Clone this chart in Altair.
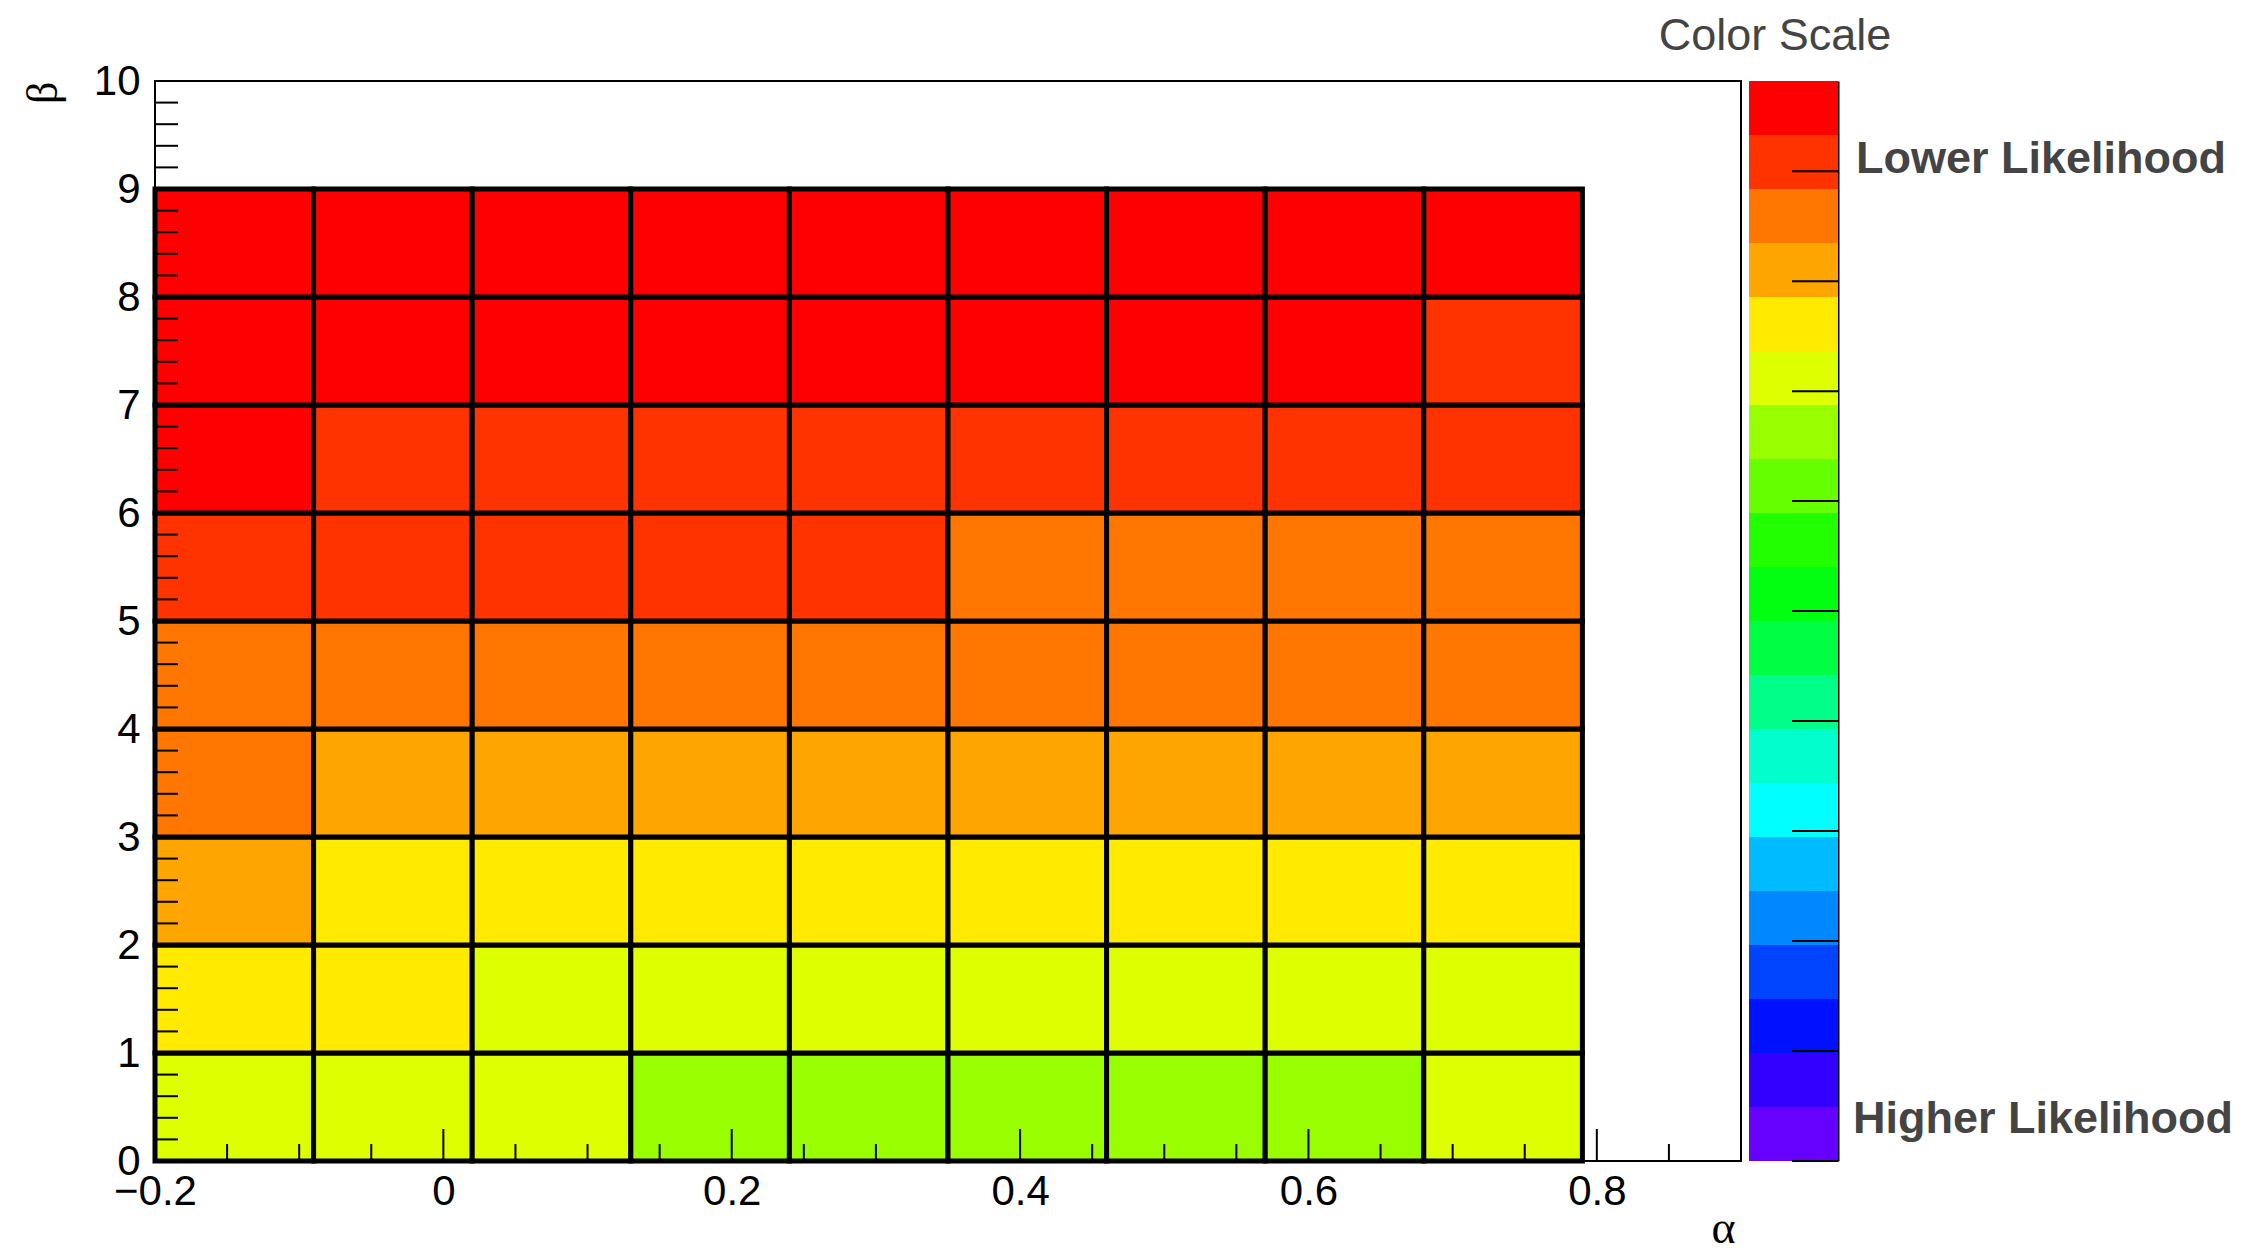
import altair as alt
import pandas as pd

# ---------------- data ----------------
alpha_lo = [-0.2, -0.09, 0.02, 0.13, 0.24, 0.35, 0.46, 0.57, 0.68]
alpha_hi = [-0.09, 0.02, 0.13, 0.24, 0.35, 0.46, 0.57, 0.68, 0.79]
beta_lo = [0, 1, 2, 3, 4, 5, 6, 7, 8]
beta_hi = [1, 2, 3, 4, 5, 6, 7, 8, 9]

# colour level (index into the palette) of every cell, one list per beta row (bottom -> top)
level_b0 = [14, 14, 14, 13, 13, 13, 13, 13, 14]
level_b1 = [15, 15, 14, 14, 14, 14, 14, 14, 14]
level_b2 = [16, 15, 15, 15, 15, 15, 15, 15, 15]
level_b3 = [17, 16, 16, 16, 16, 16, 16, 16, 16]
level_b4 = [17, 17, 17, 17, 17, 17, 17, 17, 17]
level_b5 = [18, 18, 18, 18, 18, 17, 17, 17, 17]
level_b6 = [19, 18, 18, 18, 18, 18, 18, 18, 18]
level_b7 = [19, 19, 19, 19, 19, 19, 19, 19, 18]
level_b8 = [19, 19, 19, 19, 19, 19, 19, 19, 19]
levels = [level_b0, level_b1, level_b2, level_b3, level_b4,
          level_b5, level_b6, level_b7, level_b8]

# palette, bottom (higher likelihood) -> top (lower likelihood)
palette = ["#6600FF", "#3300FF", "#0011FF", "#0044FF", "#0088FF",
           "#00BBFF", "#00FFFF", "#00FFCC", "#00FF88", "#00FF44",
           "#00FF11", "#22FF00", "#66FF00", "#99FF00", "#DDFF00",
           "#FFEA00", "#FFA500", "#FF7700", "#FF3300", "#FF0000"]

x_major = [-0.2, 0.0, 0.2, 0.4, 0.6, 0.8]
x_minor = [-0.15, -0.1, -0.05, 0.05, 0.1, 0.15, 0.25, 0.3, 0.35,
           0.45, 0.5, 0.55, 0.65, 0.7, 0.75, 0.85]
y_major = [0, 1, 2, 3, 4, 5, 6, 7, 8, 9, 10]
y_minor = [round(k * 0.2, 1) for k in range(50) if k % 5]

z_min, z_max = 0.0, 9.82
z_ticks = [0, 1, 2, 3, 4, 5, 6, 7, 8, 9]

# ---------------- sizes / styles ----------------
PW, PH = 1586, 1080
BW = 89
FONT = "Liberation Sans"
SERIF = "Liberation Serif"

cells = pd.DataFrame([
    dict(a0=alpha_lo[i], a1=alpha_hi[i], b0=beta_lo[j], b1=beta_hi[j], level=levels[j][i])
    for j in range(len(beta_lo)) for i in range(len(alpha_lo))
])

xscale = alt.Scale(domain=[-0.2, 0.9], nice=False, zero=False)
yscale = alt.Scale(domain=[0, 10], nice=False, zero=False)

xaxis = alt.Axis(values=x_major, format="~g", labelFlush=False, ticks=False, domain=False,
                 grid=False, labelFontSize=42, labelFont=FONT, labelColor="black",
                 labelPadding=10, labelOverlap=False,
                 title="α", titleFont=SERIF, titleFontSize=46, titleFontWeight="normal",
                 titleColor="black", titleX=PW - 6, titleY=81, titleAlign="right",
                 titleBaseline="alphabetic")
yaxis = alt.Axis(values=y_major, format="d", ticks=False, domain=False, grid=False,
                 labelFontSize=42, labelFont=FONT, labelColor="black", labelPadding=15,
                 labelOverlap=False,
                 title="β", titleFont=SERIF, titleFontSize=44, titleFontWeight="normal",
                 titleColor="black", titleX=-112, titleY=0, titleAngle=270,
                 titleAlign="right", titleBaseline="middle")

rects = alt.Chart(cells).mark_rect(stroke="black", strokeWidth=5).encode(
    x=alt.X("a0:Q", scale=xscale, axis=xaxis),
    x2="a1:Q",
    y=alt.Y("b0:Q", scale=yscale, axis=yaxis),
    y2="b1:Q",
    color=alt.Color("level:O", scale=alt.Scale(domain=list(range(20)), range=palette),
                    legend=None),
)

xmaj = alt.Chart(pd.DataFrame({"v": x_major})).mark_rule(color="black", strokeWidth=2).encode(
    x=alt.X("v:Q", scale=xscale, axis=xaxis), y=alt.value(PH), y2=alt.value(PH - 32))
xmin = alt.Chart(pd.DataFrame({"v": x_minor})).mark_rule(color="black", strokeWidth=2).encode(
    x=alt.X("v:Q", scale=xscale, axis=xaxis), y=alt.value(PH), y2=alt.value(PH - 17))
ymaj = alt.Chart(pd.DataFrame({"w": y_major})).mark_rule(color="black", strokeWidth=2).encode(
    y=alt.Y("w:Q", scale=yscale, axis=yaxis), x=alt.value(0), x2=alt.value(46))
ymin = alt.Chart(pd.DataFrame({"w": y_minor})).mark_rule(color="black", strokeWidth=2).encode(
    y=alt.Y("w:Q", scale=yscale, axis=yaxis), x=alt.value(0), x2=alt.value(23))

plot = alt.layer(rects, xmaj, xmin, ymaj, ymin).properties(
    width=PW, height=PH, view=alt.ViewBackground(stroke="black", strokeWidth=2))

# ---------------- colour bar ----------------
n = len(palette)
bands = pd.DataFrame({
    "z0": [z_min + i * (z_max - z_min) / n for i in range(n)],
    "z1": [z_min + (i + 1) * (z_max - z_min) / n for i in range(n)],
    "col": palette,
})
zscale = alt.Scale(domain=[z_min, z_max], nice=False, zero=False)
zaxis = alt.Axis(orient="right", labels=False, ticks=False, grid=False,
                 domain=True, domainColor="black", domainWidth=2, title=None)

bar = alt.Chart(bands).mark_rect().encode(
    y=alt.Y("z0:Q", scale=zscale, axis=zaxis),
    y2="z1:Q",
    x=alt.value(0), x2=alt.value(BW),
    fill=alt.Fill("col:N", scale=None),
)
bar_ticks = alt.Chart(pd.DataFrame({"z0": z_ticks})).mark_rule(color="black", strokeWidth=2).encode(
    y=alt.Y("z0:Q", scale=zscale, axis=zaxis), x=alt.value(BW - 46), x2=alt.value(BW))

title_txt = alt.Chart(pd.DataFrame({"s": ["Color Scale"]})).mark_text(
    font=FONT, fontSize=45, color="#444444", align="center", baseline="alphabetic"
).encode(text="s:N", x=alt.value(26), y=alt.value(-31))
low_txt = alt.Chart(pd.DataFrame({"s": ["Lower Likelihood"]})).mark_text(
    font=FONT, fontSize=45, fontWeight="bold", color="#444444", align="left", baseline="middle"
).encode(text="s:N", x=alt.value(107), y=alt.value(78))
high_txt = alt.Chart(pd.DataFrame({"s": ["Higher Likelihood"]})).mark_text(
    font=FONT, fontSize=45, fontWeight="bold", color="#444444", align="left", baseline="middle"
).encode(text="s:N", x=alt.value(104), y=alt.value(1038))

cbar = alt.layer(bar, bar_ticks, title_txt, low_txt, high_txt).properties(
    width=BW, height=PH, view=alt.ViewBackground(stroke="transparent"))

chart = alt.hconcat(plot, cbar, spacing=8, bounds="flush").properties(
    padding={"left": 12, "top": 5, "right": 4, "bottom": 0},
    background="white",
).configure_view(strokeWidth=2)

chart.save("out.html", embed_options={"renderer": "svg", "actions": False})
